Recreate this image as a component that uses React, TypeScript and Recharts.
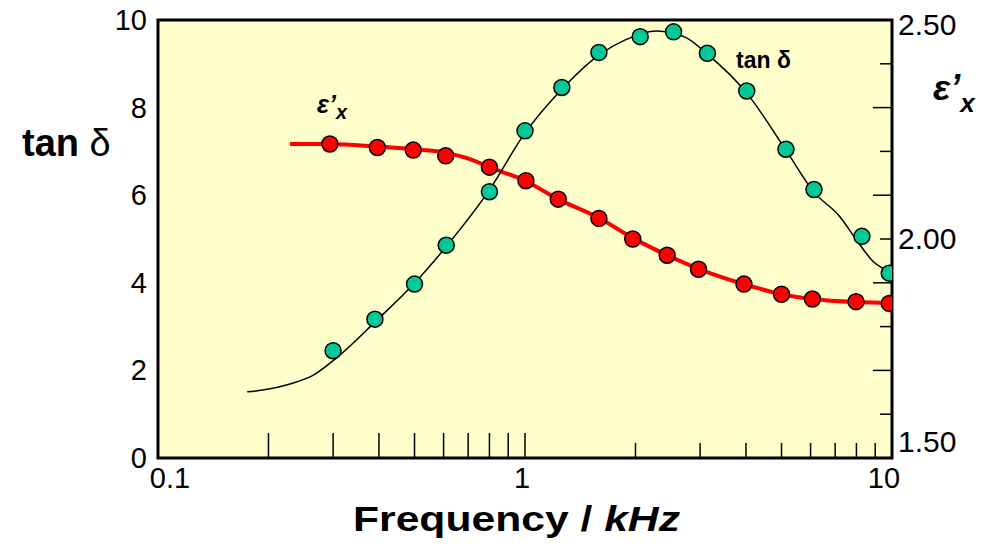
import React from "react";
import { ComposedChart, Line, Scatter, XAxis, YAxis, CartesianGrid, ReferenceArea } from "recharts";

// measured points, tan delta (left axis)
const tanFreq = [0.3, 0.39, 0.5, 0.61, 0.8, 1.0, 1.26, 1.59, 2.06, 2.54, 3.14, 4.02, 5.14, 6.13, 8.28, 9.83];
const tanVals = [2.45, 3.17, 3.97, 4.86, 6.08, 7.47, 8.46, 9.26, 9.62, 9.73, 9.24, 8.38, 7.05, 6.13, 5.06, 4.22];

// measured points, eps'x (right axis)
const epsFreq = [0.294, 0.396, 0.496, 0.608, 0.8, 1.006, 1.232, 1.59, 1.966, 2.44, 2.97, 3.95, 5.0, 6.07, 7.98, 9.83];
const epsVals = [2.217, 2.209, 2.203, 2.19, 2.164, 2.133, 2.091, 2.047, 2.0, 1.963, 1.931, 1.897, 1.874, 1.863, 1.857, 1.853];

// fitted curves
const tanFitFreq = [0.175, 0.193, 0.229, 0.265, 0.299, 0.393, 0.501, 0.609, 0.8, 0.996, 1.26, 1.59, 1.87, 2.28, 2.73, 3.14, 4.02, 5.14, 6.13, 7.21, 8.0, 8.9, 9.9];
const tanFitVals = [1.51, 1.55, 1.69, 1.89, 2.21, 3.13, 4.0, 4.82, 6.12, 7.4, 8.42, 9.2, 9.54, 9.75, 9.61, 9.22, 8.33, 7.03, 6.07, 5.51, 4.98, 4.48, 4.25];
const epsFitFreq = [0.229, 0.294, 0.396, 0.496, 0.587, 0.72, 0.8, 1.006, 1.23, 1.59, 1.97, 2.44, 2.97, 3.95, 5.0, 6.07, 7.98, 10];
const epsFitVals = [2.217, 2.217, 2.211, 2.205, 2.199, 2.18, 2.164, 2.132, 2.091, 2.048, 2.002, 1.963, 1.932, 1.897, 1.874, 1.863, 1.856, 1.854];

const xTicks = [0.1, 0.2, 0.3, 0.4, 0.5, 0.6, 0.7, 0.8, 0.9, 1, 2, 3, 4, 5, 6, 7, 8, 9, 10];
const xTickLabels = { 0.1: "0.1", 1: "1", 10: "10" };
const leftTicks = [0, 2, 4, 6, 8, 10];
const rightTicks = [1.5, 1.6, 1.7, 1.8, 1.9, 2.0, 2.1, 2.2, 2.3, 2.4, 2.5];
const rightTickLabels = { "1.50": "1.50", "2.00": "2.00", "2.50": "2.50" };

const rows = (fs: number[], vs: number[]) => fs.map((f, i) => ({ f, v: vs[i] }));

const TEAL = "#00c896";
const RED = "#ff0000";

function XTick(props: any) {
  const { x, y, payload } = props;
  const v = payload.value;
  const len = v <= 1.0001 ? 25 : 15;
  const label = (xTickLabels as any)[v];
  const dx = v === 0.1 ? 12 : v === 1 ? -3 : v === 10 ? -8 : 0;
  return (
    <g>
      {v > 0.1 && v < 10 && <line x1={x} x2={x} y1={y} y2={y - len} stroke="#000" strokeWidth={1.5} />}
      {label && (
        <text x={x + dx} y={y + 30} textAnchor="middle" fontSize={29} fill="#000">
          {label}
        </text>
      )}
    </g>
  );
}

function LeftTick(props: any) {
  const { x, y, payload } = props;
  return (
    <text x={x - 11} y={y + 10} textAnchor="end" fontSize={29} fill="#000">
      {payload.value}
    </text>
  );
}

function RightTick(props: any) {
  const { x, y, payload } = props;
  const key = Number(payload.value).toFixed(2);
  const label = (rightTickLabels as any)[key];
  const tenth = Math.round(payload.value * 10);
  const inner = tenth > 15 && tenth < 25;
  const len = tenth % 2 === 1 ? 19 : 12;
  const shift = key === "2.50" ? 5 : key === "1.50" ? -16 : 0;
  return (
    <g>
      {inner && <line x1={x} x2={x - len} y1={y} y2={y} stroke="#000" strokeWidth={1.5} />}
      {label && (
        <text x={x + 6} y={y + 10 + shift} textAnchor="start" fontSize={30} fill="#000">
          {label}
        </text>
      )}
    </g>
  );
}

const dot = (props: any) => (
  <circle cx={props.cx} cy={props.cy} r={8} fill={props.fill} stroke="#000" strokeWidth={1.5} />
);

export default function App() {
  return (
    <div style={{ position: "relative", marginTop: -8, width: 976, height: 538, fontFamily: "'Liberation Sans', Arial, sans-serif", background: "#fff" }}>
      <ComposedChart width={976} height={538} margin={{ top: 20, right: 12, bottom: 40, left: 90 }}>
        <CartesianGrid horizontal={false} vertical={false} fill="#ffffcc" />
        <XAxis
          dataKey="f"
          type="number"
          scale="log"
          domain={[0.1, 10]}
          ticks={xTicks}
          interval={0}
          allowDataOverflow
          axisLine={false}
          tickLine={false}
          tickSize={0}
          tickMargin={0}
          height={40}
          tick={<XTick />}
        />
        <YAxis
          yAxisId="left"
          dataKey="v"
          type="number"
          domain={[0, 10]}
          ticks={leftTicks}
          interval={0}
          axisLine={false}
          tickLine={false}
          tickSize={0}
          tickMargin={0}
          width={60}
          tick={<LeftTick />}
        />
        <YAxis
          yAxisId="right"
          orientation="right"
          dataKey="v"
          type="number"
          domain={[1.5, 2.5]}
          ticks={rightTicks}
          interval={0}
          axisLine={false}
          tickLine={false}
          tickSize={0}
          tickMargin={0}
          width={80}
          tick={<RightTick />}
        />
        <ReferenceArea yAxisId="left" x1={0.1} x2={10} y1={0} y2={10} fill="none" stroke="#000" strokeWidth={3} />
        <Line yAxisId="right" data={rows(epsFitFreq, epsFitVals)} dataKey="v" type="monotone" stroke={RED} strokeWidth={4} dot={false} isAnimationActive={false} />
        <Line yAxisId="left" data={rows(tanFitFreq, tanFitVals)} dataKey="v" type="monotone" stroke="#000" strokeWidth={1.5} dot={false} isAnimationActive={false} />
        <Scatter yAxisId="right" data={rows(epsFreq, epsVals)} dataKey="v" fill={RED} shape={dot} isAnimationActive={false} />
        <Scatter yAxisId="left" data={rows(tanFreq, tanVals)} dataKey="v" fill={TEAL} shape={dot} isAnimationActive={false} />
      </ComposedChart>
      <svg width={976} height={538} style={{ position: "absolute", left: 0, top: 0, pointerEvents: "none" }}>
        <text x={14} y={156} fontSize={38} fontWeight="bold" fill="#000">
          tan <tspan fontWeight="normal">δ</tspan>
        </text>
        <text x={925} y={100} fontSize={36} fontWeight="bold" fontStyle="italic" fill="#000">
          ε’<tspan dy={12} fontSize={26}>x</tspan>
        </text>
        <text x={309} y={113} fontSize={25} fontWeight="bold" fontStyle="italic" fill="#000">
          ε’<tspan dy={6} fontSize={20}>x</tspan>
        </text>
        <text x={728} y={68} fontSize={23} fontWeight="bold" fill="#000">
          tan δ
        </text>
        <text x={345} y={531} fontSize={35} fontWeight="bold" fill="#000" textLength={327} lengthAdjust="spacingAndGlyphs">
          Frequency / <tspan fontStyle="italic">kHz</tspan>
        </text>
      </svg>
    </div>
  );
}
